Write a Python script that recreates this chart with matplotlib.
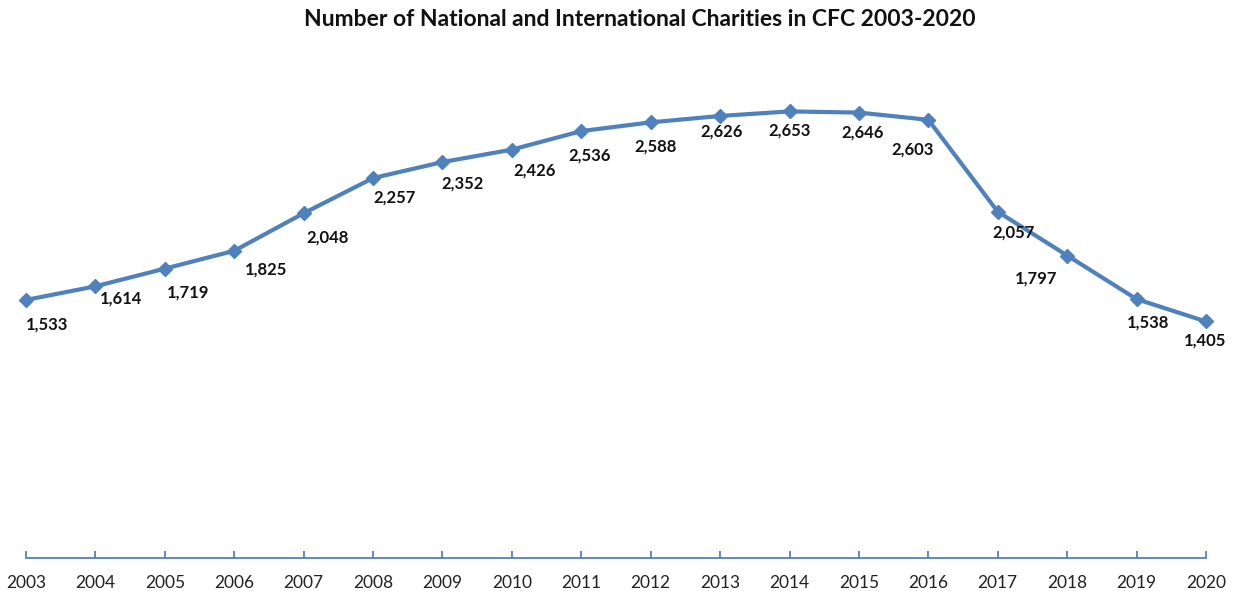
import matplotlib
matplotlib.use("Agg")
import matplotlib.pyplot as plt
import numpy as np

years = list(range(2003, 2021))
charities = [1533, 1614, 1719, 1825, 2048, 2257, 2352, 2426, 2536,
             2588, 2626, 2653, 2646, 2603, 2057, 1797, 1538, 1405]

# label offsets in pixels (dx, dy downwards)
offsets = [(21, 25), (26, 12), (23, 24), (32, 19), (24, 24), (22, 19), (20, 21),
           (23, 21), (8, 24), (5, 24), (1, 16), (0, 19), (4, 20), (-16, 30),
           (16, 21), (-31, 23), (11, 23), (-1, 19)]

BLUE = "#4F81BD"
plt.rcParams["font.family"] = ["Lato", "DejaVu Sans"]

fig = plt.figure(figsize=(12.34, 5.91), dpi=100)
ax = fig.add_axes([26/1234, 1-558/591, (1206-26)/1234, (558-53)/591])
ax.plot(years, charities, color=BLUE, lw=3, marker="D", ms=7, clip_on=False, zorder=3)
for x, v, (dx, dy) in zip(years, charities, offsets):
    ax.annotate(f"{v:,}", (x, v), xytext=(dx, -dy), textcoords="offset pixels",
                ha="center", va="center", fontsize=12, fontweight="bold", color="#111111")

ax.set_xlim(2003, 2020)
ax.set_ylim(0, 3000)
ax.set_yticks([])
for s in ["top", "right", "left"]:
    ax.spines[s].set_visible(False)
ax.spines["bottom"].set_color(BLUE)
ax.spines["bottom"].set_linewidth(1.3)
ax.set_xticks(years)
ax.tick_params(axis="x", direction="in", length=5, width=1.3, color=BLUE,
               labelsize=12.5, labelcolor="#222222", pad=12)

fig.text(640/1234, 1-19/591, "Number of National and International Charities in CFC 2003-2020",
         ha="center", va="center", fontsize=16.5, fontweight="bold", color="#111111")

fig.savefig("out.png")
